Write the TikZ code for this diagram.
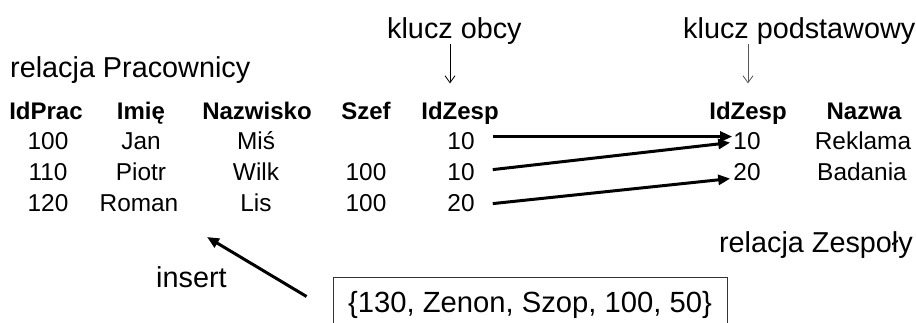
\documentclass[tikz,border=0pt]{standalone}
\usepackage{fontspec}
\setmainfont{Liberation Sans}
\usetikzlibrary{arrows.meta,calc}
\begin{document}
\begin{tikzpicture}[x=1pt,y=-1pt,
  lbl/.style={inner sep=0pt,font=\fontsize{28.8}{34}\selectfont},
  hdr/.style={inner sep=0pt,anchor=base,font=\fontsize{24}{28}\selectfont\bfseries},
  cell/.style={inner sep=0pt,anchor=base,font=\fontsize{24.4}{28}\selectfont},
  keyarrow/.style={line width=0.8pt,-{Straight Barb[length=7pt,width=10pt]}},
  fkarrow/.style={line width=3pt,-{Triangle[length=12pt,width=10pt]}},
  boxstyle/.style={draw=black!80,line width=0.9pt,inner xsep=0pt,inner ysep=0pt,
    minimum width=394pt,text height=35pt,text depth=20pt,anchor=base,
    font=\fontsize{29.2}{34}\selectfont}
]
\clip (0,0) rectangle (916,322);
\fill[white] (0,0) rectangle (916,322);

% labels
\node[lbl,anchor=base west] (rp) at (10,77) {relacja Pracownicy};
\node[lbl,anchor=base west] (ko) at (387,38) {klucz obcy};
\node[lbl,anchor=base west] (kp) at (683,38) {klucz podstawowy};
\node[lbl,anchor=base east] (rz) at (913,252) {relacja Zespoły};
\node[lbl,anchor=base west] (ins) at (156,287) {insert};

% headers
\node[hdr] (h1) at (46,119) {IdPrac};
\node[hdr] (h2) at (141,119) {Imię};
\node[hdr] (h3) at (257,119) {Nazwisko};
\node[hdr] (h4) at (366,119) {Szef};
\node[hdr] (h5) at (460,119) {IdZesp};
\node[hdr] (h6) at (748,119) {IdZesp};
\node[hdr] (h7) at (864,119) {Nazwa};

% row 1
\node[cell] (r1c1) at (48,149) {100};
\node[cell] (r1c2) at (141,149) {Jan};
\node[cell] (r1c3) at (256,149) {Miś};
\node[cell] (fk1) at (461,149) {10};
% row 2
\node[cell] (r2c1) at (48,180) {110};
\node[cell] (r2c2) at (141,180) {Piotr};
\node[cell] (r2c3) at (256,180) {Wilk};
\node[cell] (r2c4) at (366,180) {100};
\node[cell] (fk2) at (461,180) {10};
% row 3
\node[cell] (r3c1) at (48,211) {120};
\node[cell] (r3c2) at (139,211) {Roman};
\node[cell] (r3c3) at (256,211) {Lis};
\node[cell] (r3c4) at (366,211) {100};
\node[cell] (fk3) at (461,211) {20};

% Zespoly
\node[cell] (pk1) at (747,149) {10};
\node[cell] (n1) at (863,149) {Reklama};
\node[cell] (pk2) at (747,180) {20};
\node[cell] (n2) at (862,180) {Badania};

% insert box
\node[boxstyle] (box) at (530,312) {\{130, Zenon, Szop, 100, 50\}};
\coordinate (instip) at (207,237);

% key arrows
\draw[keyarrow] (450,0 |- ko.south) -- (450,0 |- h5.north) [shorten >=18pt];
\draw[keyarrow,draw=black!65] (h6.north |- kp.south) -- (h6.north) [shorten >=18pt];

% foreign key arrows
\draw[fkarrow] ([xshift=18pt,yshift=4pt]fk1.east) -- ([xshift=-1pt,yshift=4pt]pk1.west);
\draw[fkarrow] ([xshift=18pt,yshift=2pt]fk2.east) -- ([xshift=-3pt,yshift=-2pt]pk1.west);
\draw[fkarrow] ([xshift=18pt,yshift=-1pt]fk3.east) -- ([xshift=-3pt,yshift=-7pt]pk2.west);

% insert arrow
\draw[fkarrow] ([xshift=-26pt,yshift=8pt]box.west) -- (instip);
\end{tikzpicture}
\end{document}
